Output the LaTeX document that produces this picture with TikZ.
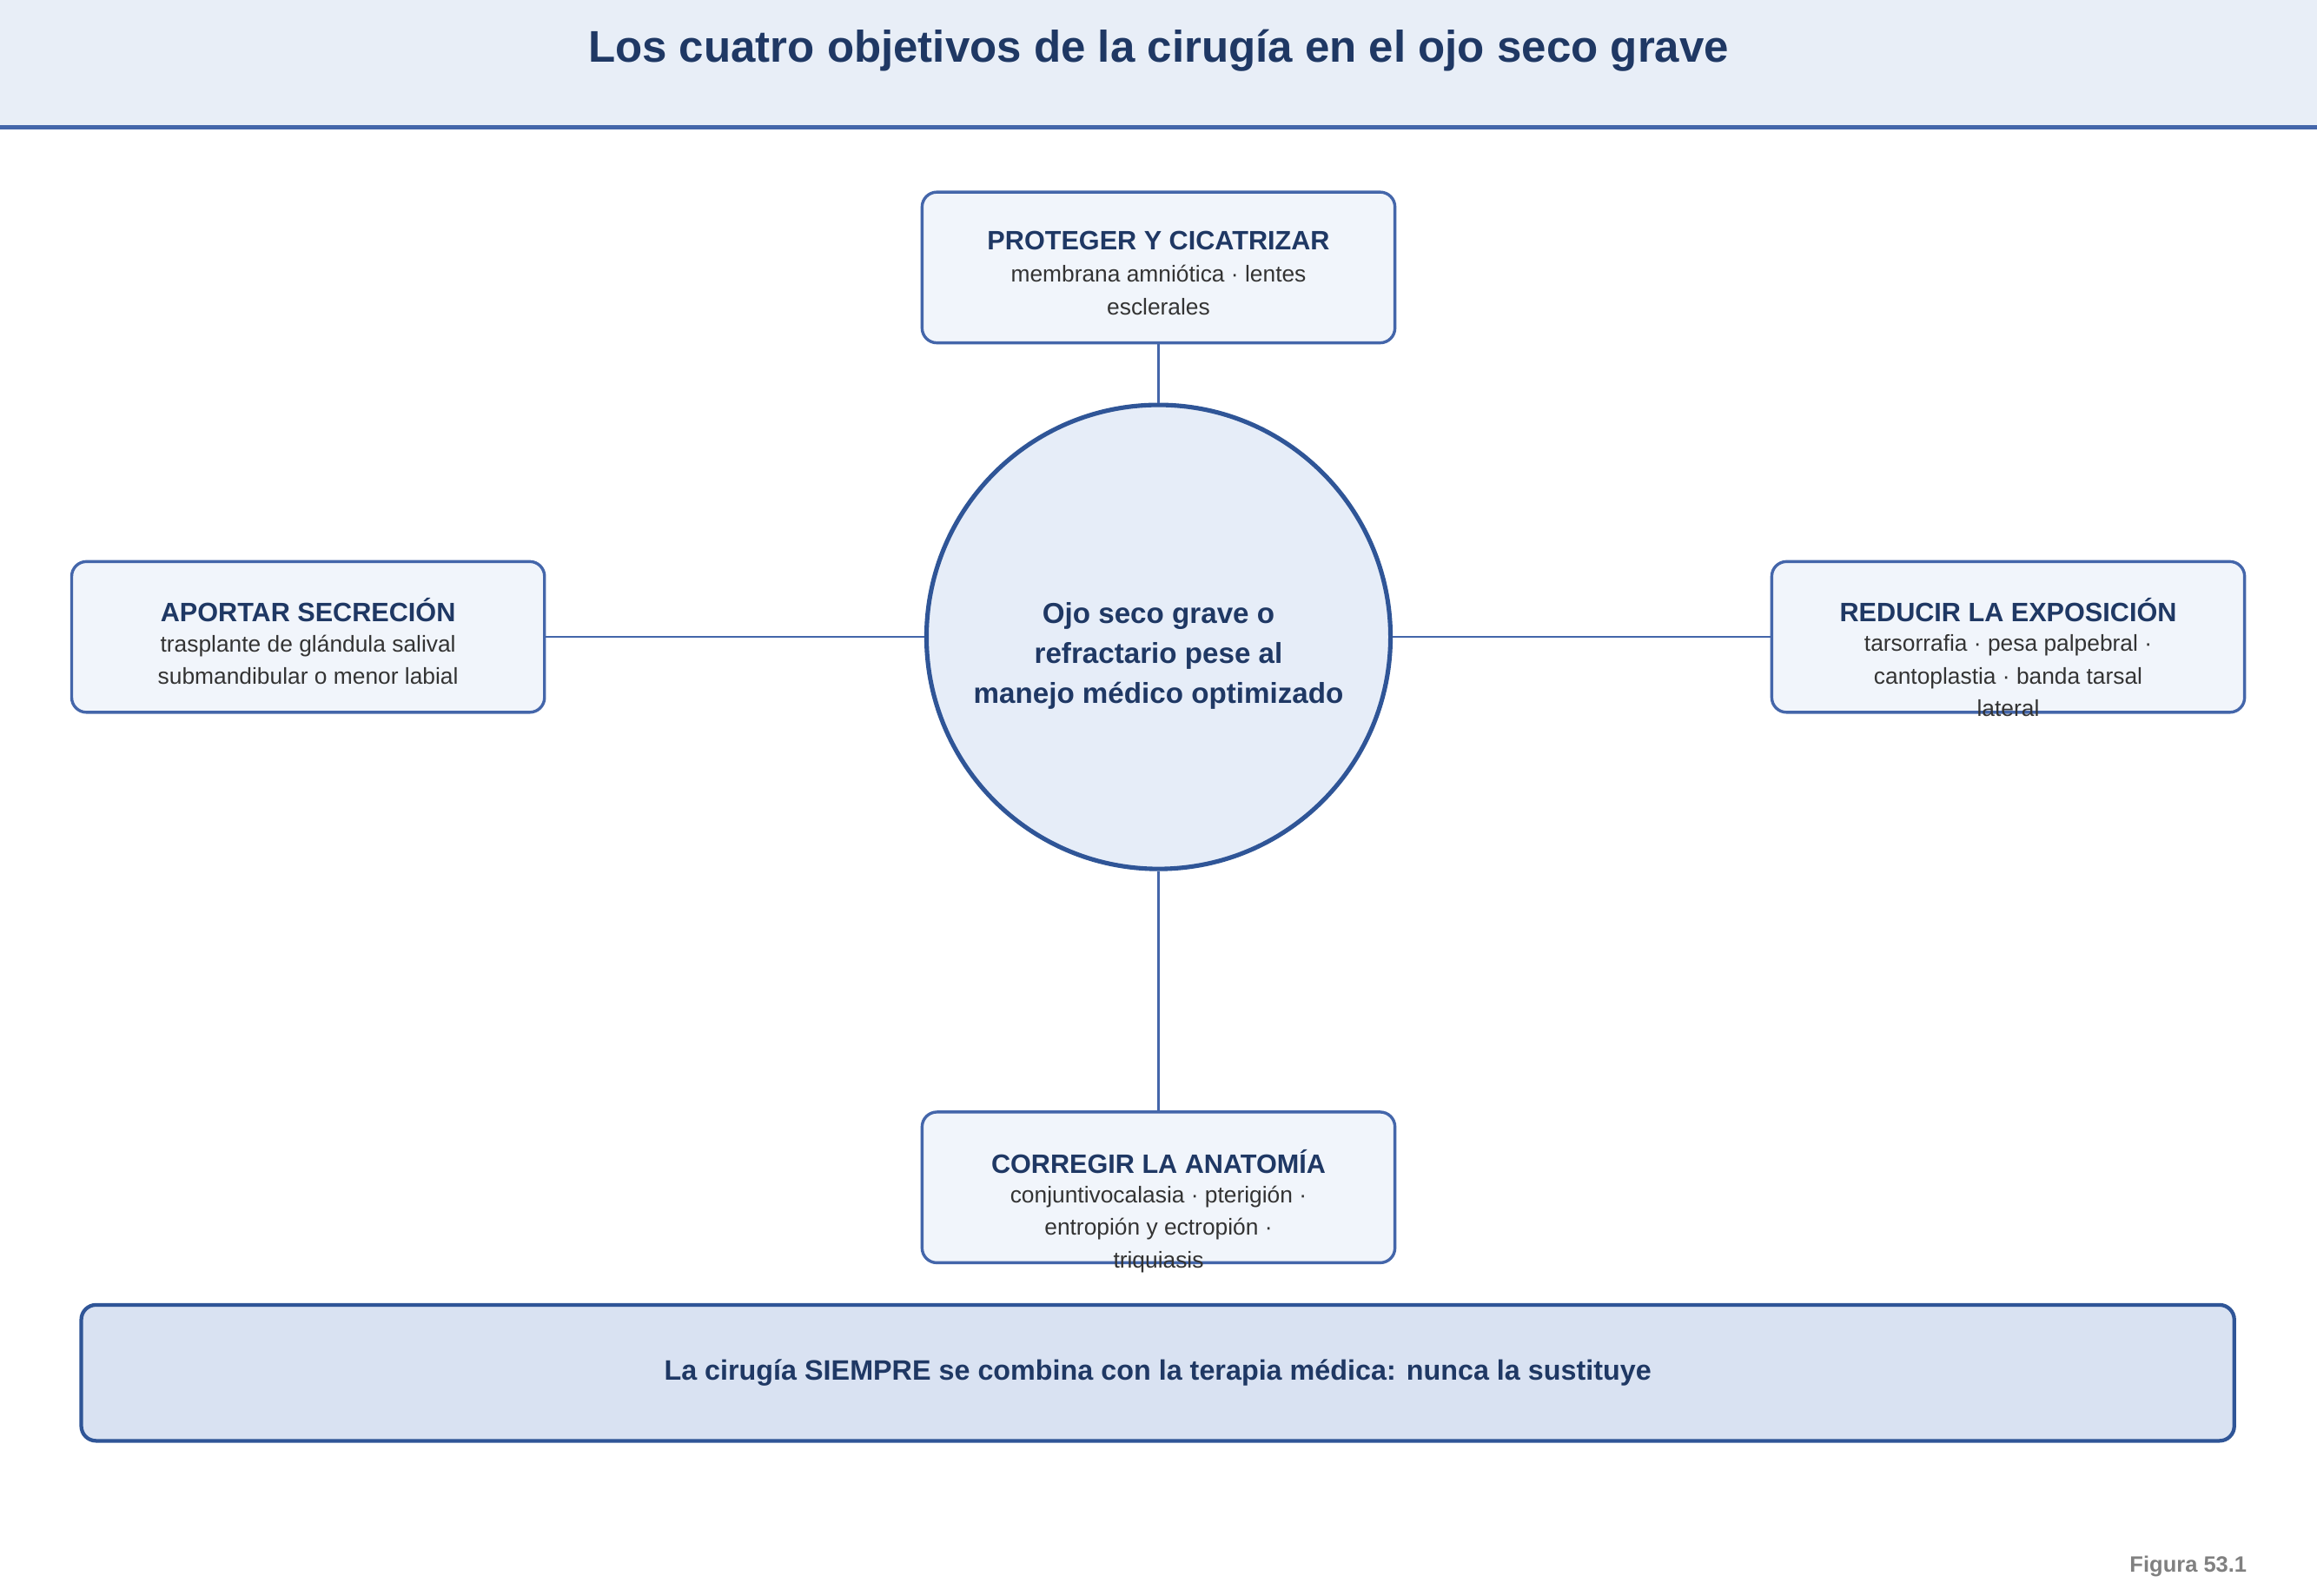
\documentclass[tikz,border=0pt]{standalone}
\usepackage{fontspec}
\setmainfont{Liberation Sans}
\definecolor{hdr}{HTML}{E8EEF7}
\definecolor{navy}{HTML}{1F3864}
\definecolor{edge}{HTML}{4466AA}
\definecolor{cedge}{HTML}{2F5597}
\definecolor{boxf}{HTML}{F1F5FB}
\definecolor{circf}{HTML}{E6EDF8}
\definecolor{banf}{HTML}{D9E2F2}
\definecolor{txt}{HTML}{333333}
\begin{document}
\begin{tikzpicture}[x=1pt,y=-1pt,
  goal/.style={draw=edge,line width=2pt,fill=boxf,rounded corners=10pt,minimum width=320pt,minimum height=102pt,inner sep=0pt},
  ttl/.style={font=\fontsize{18}{22}\selectfont\bfseries,text=navy},
  body/.style={font=\fontsize{15.5}{22}\selectfont,text=txt,align=center},
  conn/.style={draw=edge,line width=1.6pt}]
\useasboundingbox (0,0) rectangle (1568,1080);
\fill[white] (0,0) rectangle (1568,1080);
\fill[hdr] (0,0) rectangle (1568,86);
\draw[edge,line width=3pt] (0,86) -- (1568,86);
\node[font=\fontsize{30}{34}\selectfont\bfseries,text=navy] (title) at (784,34) {Los cuatro objetivos de la cirugía en el ojo seco grave};

\node[circle,draw=cedge,line width=3pt,fill=circf,minimum size=314pt,inner sep=0pt] (c) at (784,431) {};
\node[font=\fontsize{19.5}{27}\selectfont\bfseries,text=navy,align=center] (ct) at (784,444) {Ojo seco grave o\\refractario pese al\\manejo médico optimizado};

\node[goal] (t) at (784,181) {};
\node[goal] (l) at (208.5,431) {};
\node[goal] (r) at (1359,431) {};
\node[goal] (b) at (784,803.5) {};

\node[ttl] (tt) at (784,163) {PROTEGER Y CICATRIZAR};
\node[body,anchor=north] (tb) at (784,176) {membrana amniótica · lentes\\esclerales};
\node[ttl] (lt) at (208.5,413) {APORTAR SECRECIÓN};
\node[body,anchor=north] (lb) at (208.5,426) {trasplante de glándula salival\\submandibular o menor labial};
\node[ttl] (rt) at (1359,413) {REDUCIR LA EXPOSICIÓN};
\node[body,anchor=north] (rb) at (1359,426) {tarsorrafia · pesa palpebral ·\\cantoplastia · banda tarsal\\lateral};
\node[ttl] (bt) at (784,786) {CORREGIR LA ANATOMÍA};
\node[body,anchor=north] (bb) at (784,799) {conjuntivocalasia · pterigión ·\\entropión y ectropión ·\\triquiasis};

\draw[conn] (t.south) -- (c.north);
\draw[conn] (l.east) -- (c.west);
\draw[conn] (r.west) -- (c.east);
\draw[conn] (b.north) -- (c.south);

\node[draw=cedge,line width=2.5pt,fill=banf,rounded corners=10pt,minimum width=1457pt,minimum height=92pt,font=\fontsize{19}{23}\selectfont\bfseries,text=navy] (ban) at (783.5,929) {La cirugía SIEMPRE se combina con la terapia médica: nunca la sustituye};
\node[anchor=east,font=\fontsize{15}{18}\selectfont\bfseries,text=gray] (fig) at (1524,1060) {Figura 53.1};
\end{tikzpicture}
\end{document}
